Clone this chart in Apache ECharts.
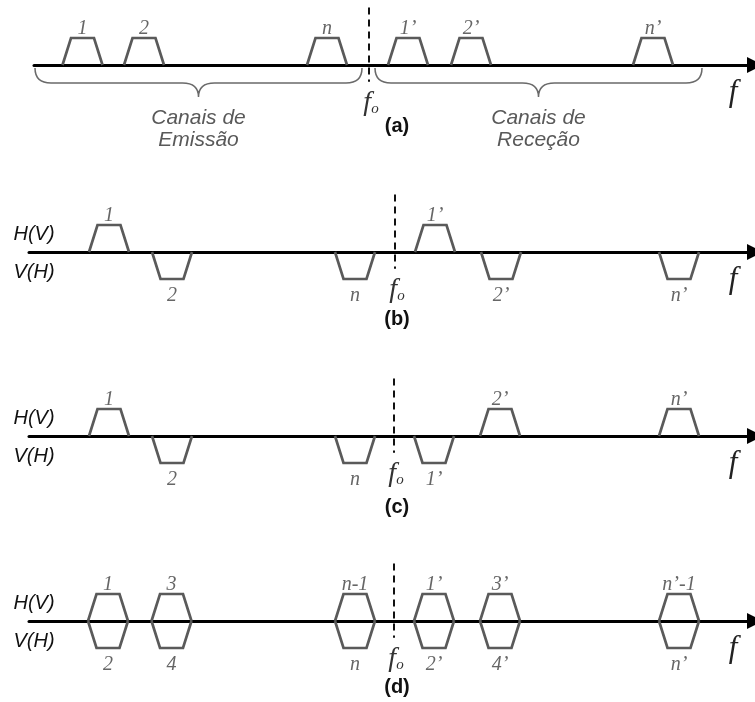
<!DOCTYPE html>
<html>
<head>
<meta charset="utf-8">
<script src="https://cdn.jsdelivr.net/npm/echarts@6/dist/echarts.min.js"></script>
<style>
  html, body { margin: 0; padding: 0; background: #fff; }
  #chart { width: 755px; height: 702px; }
</style>
</head>
<body>
<div id="chart"></div>
<script>
// ---- Frequency plans -------------------------------------------------------
// Channel centre frequencies (frequency units), polarisation (+1 = H(V), -1 = V(H))
// and channel names for each of the four plans.
const freqA = [82.5, 144, 327, 408, 471, 653];
const polA  = [1, 1, 1, 1, 1, 1];
const labA  = ['1', '2', 'n', '1’', '2’', 'n’'];

const freqB = [109, 172, 355, 435, 501, 679];
const polB  = [1, -1, -1, 1, -1, -1];
const labB  = ['1', '2', 'n', '1’', '2’', 'n’'];

const freqC = [109, 172, 355, 434, 500, 679];
const polC  = [1, -1, -1, -1, 1, 1];
const labC  = ['1', '2', 'n', '1’', '2’', 'n’'];

const freqD = [108, 108, 171.5, 171.5, 355, 355, 434, 434, 500, 500, 679, 679];
const polD  = [1, -1, 1, -1, 1, -1, 1, -1, 1, -1, 1, -1];
const labD  = ['1', '2', '3', '4', 'n-1', 'n', '1’', '2’', '3’', '4’', 'n’-1', 'n’'];

// Centre frequency f_o of each plan and the span of its frequency axis
const centreFreq = [369, 395, 394, 394];
const axisStart  = [34, 29, 29, 29];
const axisEnd    = 755;
const panelTags  = ['(a)', '(b)', '(c)', '(d)'];

// Emission / reception bands of plan (a)
const bandStart = [35, 375];
const bandEnd   = [362, 702];
const bandTitle = ['Canais de\nEmissão', 'Canais de\nReceção'];

// ---- Layout ------------------------------------------------------------------
const axisY = [65, 252, 436, 621];   // vertical position of each frequency axis
const UNIT = 27;                     // channel height in pixels
const Y_EXT = 2.4;                   // y range of each panel, in channel heights

const plans = [
  { freq: freqA, pol: polA, lab: labA },
  { freq: freqB, pol: polB, lab: labB },
  { freq: freqC, pol: polC, lab: labC },
  { freq: freqD, pol: polD, lab: labD }
];

const LABEL_FONT = 'italic 20px "Liberation Serif", "DejaVu Serif", serif';
const CH_COLOR = '#5a5a5a';

function channelRenderer(labels) {
  return function (params, api) {
    const f = api.value(0), p = api.value(1);
    const b = api.coord([f, 0]);
    const t = api.coord([f, p]);
    return {
      type: 'group',
      children: [
        {
          type: 'polyline',
          shape: { points: [[b[0] - 20, b[1]], [b[0] - 11.5, t[1]], [b[0] + 11.5, t[1]], [b[0] + 20, b[1]]] },
          style: { fill: null, stroke: CH_COLOR, lineWidth: 2.7, lineJoin: 'miter' }
        },
        {
          type: 'text',
          x: b[0], y: t[1] + (p > 0 ? -9 : 17),
          style: {
            text: labels[params.dataIndex], font: LABEL_FONT, fill: '#666',
            align: 'center', verticalAlign: 'middle'
          }
        }
      ]
    };
  };
}

function centreRenderer(params, api) {
  const f = api.value(0);
  const a = api.coord([f, 2.13]);
  const b = api.coord([f, -0.62]);
  const o = api.coord([f, 0]);
  return {
    type: 'group',
    children: [
      {
        type: 'line',
        shape: { x1: a[0], y1: a[1], x2: b[0], y2: b[1] },
        style: { stroke: '#111', lineWidth: 2, lineDash: [7, 5] }
      },
      {
        type: 'text',
        x: o[0] + 2, y: o[1] + 38,
        style: {
          text: '{f|f}{o|o}',
          align: 'center', verticalAlign: 'middle',
          rich: {
            f: { font: 'italic 28px "Liberation Serif", serif', fill: '#333' },
            o: { font: 'italic 15px "Liberation Serif", serif', fill: '#333', verticalAlign: 'bottom' }
          }
        }
      }
    ]
  };
}

function braceRenderer(params, api) {
  const s = api.coord([api.value(0), 0]);
  const e = api.coord([api.value(1), 0]);
  const x1 = s[0], x2 = e[0], m = (x1 + x2) / 2;
  const y0 = s[1] + 3, y1 = s[1] + 18, y2 = s[1] + 32, r = 16;
  const d = `M${x1},${y0} Q${x1},${y1} ${x1 + r},${y1} L${m - r},${y1} Q${m},${y1} ${m},${y2} ` +
            `Q${m},${y1} ${m + r},${y1} L${x2 - r},${y1} Q${x2},${y1} ${x2},${y0}`;
  return {
    type: 'group',
    children: [
      { type: 'path', shape: { pathData: d }, style: { fill: null, stroke: '#6a6a6a', lineWidth: 1.5 } },
      {
        type: 'text', x: m, y: s[1] + 64,
        style: {
          text: bandTitle[params.dataIndex],
          font: 'italic 21px "Liberation Sans", Arial, sans-serif',
          lineHeight: 22, fill: '#595959', align: 'center', verticalAlign: 'middle'
        }
      }
    ]
  };
}

const grids = [], xAxes = [], yAxes = [], series = [], graphics = [];

plans.forEach((plan, i) => {
  grids.push({
    left: axisStart[i], right: 0,
    top: axisY[i] - Y_EXT * UNIT, height: 2 * Y_EXT * UNIT
  });
  xAxes.push({
    gridIndex: i, type: 'value', min: axisStart[i], max: axisEnd,
    axisLine: {
      show: true, onZero: true,
      symbol: ['none', 'triangle'], symbolSize: [16, 16],
      lineStyle: { color: '#000', width: 3 }
    },
    axisTick: { show: false }, axisLabel: { show: false }, splitLine: { show: false }
  });
  yAxes.push({
    gridIndex: i, type: 'value', min: -Y_EXT, max: Y_EXT, show: false,
    splitLine: { show: false }
  });
  series.push({
    type: 'custom', xAxisIndex: i, yAxisIndex: i, clip: false,
    renderItem: channelRenderer(plan.lab),
    data: plan.freq.map((f, k) => [f, plan.pol[k]])
  });
  series.push({
    type: 'custom', xAxisIndex: i, yAxisIndex: i, clip: false,
    renderItem: centreRenderer,
    data: [[centreFreq[i]]]
  });

  // right-hand frequency symbol and panel tag
  graphics.push({
    type: 'text', x: 733, y: axisY[i] + 28,
    style: {
      text: 'f', font: 'italic 31px "Liberation Serif", serif', fill: '#222',
      align: 'center', verticalAlign: 'middle'
    }
  });
  graphics.push({
    type: 'text', x: 397, y: axisY[i] + [61, 67, 71, 66][i],
    style: {
      text: panelTags[i], font: 'bold 20px "Liberation Sans", Arial, sans-serif', fill: '#111',
      align: 'center', verticalAlign: 'middle'
    }
  });
  if (i > 0) {
    graphics.push({
      type: 'text', x: 34, y: axisY[i] - 18,
      style: { text: 'H(V)', font: 'italic 20px "Liberation Sans", Arial, sans-serif', fill: '#111', align: 'center', verticalAlign: 'middle' }
    });
    graphics.push({
      type: 'text', x: 34, y: axisY[i] + 20,
      style: { text: 'V(H)', font: 'italic 20px "Liberation Sans", Arial, sans-serif', fill: '#111', align: 'center', verticalAlign: 'middle' }
    });
  }
});

series.push({
  type: 'custom', xAxisIndex: 0, yAxisIndex: 0, clip: false,
  renderItem: braceRenderer,
  data: bandStart.map((s, k) => [s, bandEnd[k]])
});

const chart = echarts.init(document.getElementById('chart'), null, { renderer: 'canvas' });
chart.setOption({
  animation: false,
  backgroundColor: '#fff',
  grid: grids,
  xAxis: xAxes,
  yAxis: yAxes,
  series: series,
  graphic: graphics
});
</script>
</body>
</html>
